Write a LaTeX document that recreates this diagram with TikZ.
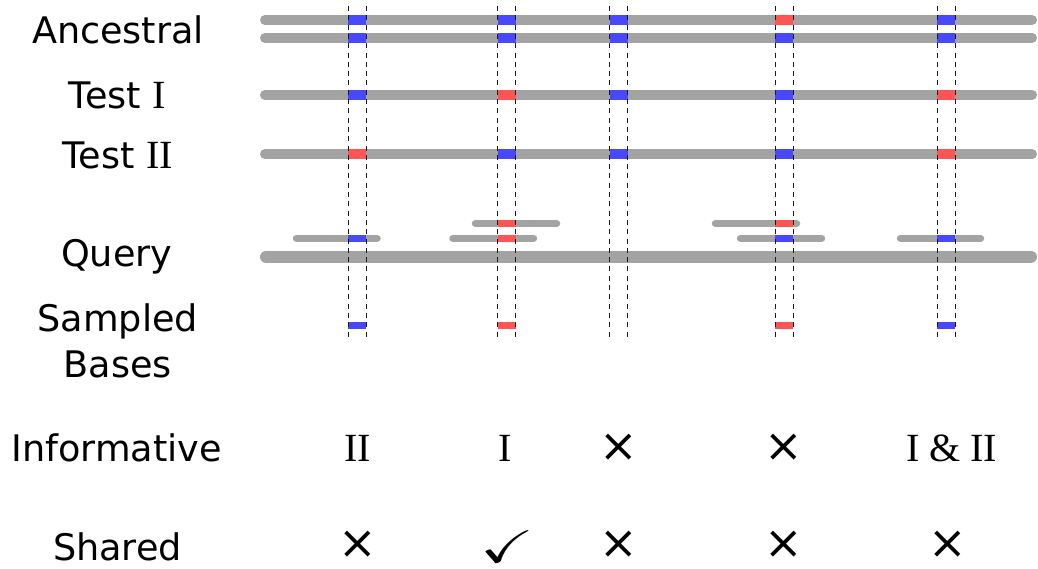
\documentclass[tikz,border=0pt]{standalone}
\usepackage{amssymb}
\usepackage{fontspec}
\newfontfamily\labelfont{DejaVu Sans}
\newfontfamily\numfont{Liberation Serif}
\definecolor{bargray}{RGB}{163,163,163}
\definecolor{snpblue}{RGB}{72,72,255}
\definecolor{snpred}{RGB}{255,85,85}
% coloured site on a sequence: column centre, y, thickness, colour
\newcommand\site[4]{\fill[#4] ({#1-9},{#2-#3/2}) rectangle ({#1+9},{#2+#3/2});}
\newcommand\numeral[1]{{\numfont\fontsize{40}{44}\selectfont #1}}
\begin{document}
\begin{tikzpicture}[x=1pt,y=-1pt,
  chrom/.style={bargray,line width=10pt,line cap=round},
  qbar/.style={bargray,line width=12pt,line cap=round},
  readbar/.style={bargray,line width=7.5pt,line cap=round},
  guide/.style={black!90,line width=1.4pt,dash pattern=on 5pt off 4.3pt},
  rowlabel/.style={font=\labelfont\fontsize{36.6}{46.7}\selectfont,anchor=base,align=center,inner sep=0pt},
  roman/.style={font=\numfont\fontsize{40}{44}\selectfont,anchor=base,inner sep=0pt},
  verdict/.style={font=\labelfont\fontsize{46}{46}\selectfont,inner sep=0pt}]
\useasboundingbox (0,0) rectangle (1038,568);

% row labels
\node[rowlabel] (lanc) at (118,43.3) {Ancestral};
\node[rowlabel] (ltest1) at (117.5,108.3) {Test \numeral{I}};
\node[rowlabel] (ltest2) at (117.7,168.3) {Test \numeral{II}};
\node[rowlabel] (lquery) at (116.7,266.7) {Query};
\node[rowlabel,anchor=north] (lsamp) at (117.7,303) {Sampled\\Bases};
\node[rowlabel] (linf) at (116.7,461.7) {Informative};
\node[rowlabel] (lshared) at (117.5,560) {Shared};

% sequences
\draw[chrom] (265,20) -- (1032,20);
\draw[chrom] (265,38) -- (1032,38);
\draw[chrom] (265,95) -- (1032,95);
\draw[chrom] (265,154) -- (1032,154);
\draw[qbar] (266,256.7) -- (1031,256.7);

% reads on the query
\draw[readbar] (296.5,238.3) -- (377,238.3);
\draw[readbar] (453,238.3) -- (533.5,238.3);
\draw[readbar] (475.5,223.3) -- (556.5,223.3);
\draw[readbar] (715.5,223.3) -- (796.5,223.3);
\draw[readbar] (740.5,238.3) -- (821.5,238.3);
\draw[readbar] (900.5,238.3) -- (980.5,238.3);

% ancestral sites
\site{357.3}{20}{10}{snpblue}
\site{357.3}{38}{10}{snpblue}
\site{506.7}{20}{10}{snpblue}
\site{506.7}{38}{10}{snpblue}
\site{618.7}{20}{10}{snpblue}
\site{618.7}{38}{10}{snpblue}
\site{784.4}{20}{10}{snpred}
\site{784.4}{38}{10}{snpblue}
\site{946.2}{20}{10}{snpblue}
\site{946.2}{38}{10}{snpblue}
% test I
\site{357.3}{95}{10}{snpblue}
\site{506.7}{95}{10}{snpred}
\site{618.7}{95}{10}{snpblue}
\site{784.4}{95}{10}{snpblue}
\site{946.2}{95}{10}{snpred}
% test II
\site{357.3}{154}{10}{snpred}
\site{506.7}{154}{10}{snpblue}
\site{618.7}{154}{10}{snpblue}
\site{784.4}{154}{10}{snpblue}
\site{946.2}{154}{10}{snpred}
% reads
\site{357.3}{238.3}{7.5}{snpblue}
\site{506.7}{223.3}{7.5}{snpred}
\site{506.7}{238.3}{7.5}{snpred}
\site{784.4}{223.3}{7.5}{snpred}
\site{784.4}{238.3}{7.5}{snpblue}
\site{946.2}{238.3}{7.5}{snpblue}
% sampled bases
\site{357.3}{325.5}{7.6}{snpblue}
\site{506.7}{325.5}{7.6}{snpred}
\site{784.4}{325.5}{7.6}{snpred}
\site{946.2}{325.5}{7.6}{snpblue}

% column guides
\foreach \c in {357.3,506.7,618.7,784.4,946.2}{
  \draw[guide] ({\c-9},6) -- ({\c-9},340);
  \draw[guide] ({\c+9},6) -- ({\c+9},340);
}

% informative row
\node[roman] (i1) at (357.5,461.7) {II};
\node[roman] (i2) at (505.3,461.7) {I};
\node[verdict] (i3) at (619,447.5) {×};
\node[verdict] (i4) at (784,447.5) {×};
\node[roman] (i5) at (951.7,461.7) {I \& II};

% shared row
\node[verdict] (s1) at (357.5,545) {×};
\node[verdict,font=\fontsize{48}{48}\selectfont] (s2) at (507,547) {\scalebox{1.35}[0.95]{$\checkmark$}};
\node[verdict] (s3) at (619,545) {×};
\node[verdict] (s4) at (784,545) {×};
\node[verdict] (s5) at (947.5,545) {×};
\end{tikzpicture}
\end{document}
